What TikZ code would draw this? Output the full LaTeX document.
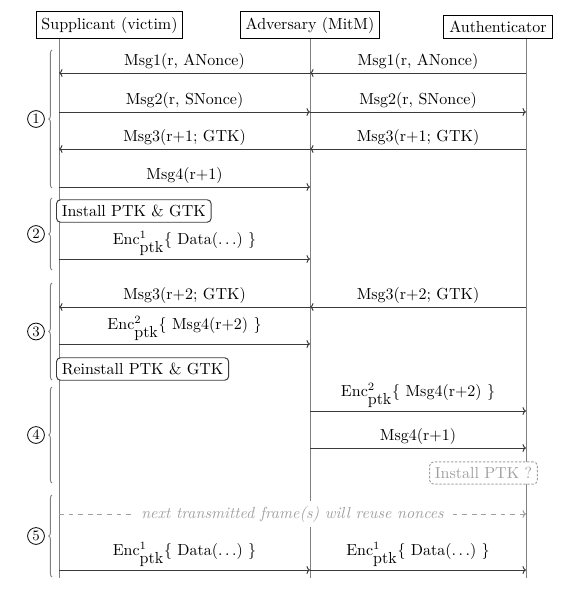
\documentclass[tikz,border=0pt]{standalone}
\usepackage{tikz}
\usetikzlibrary{arrows.meta, positioning, calc, decorations.pathreplacing}
\definecolor{lifegray}{HTML}{808080}
\definecolor{msgdark}{HTML}{3A3A3A}
\definecolor{hintgray}{HTML}{A0A0A0}
\tikzset{
    % Party header style
    party/.style={
        rectangle,
        anchor=south,
        draw=black,
        line width=0.6pt
    },
    % Lifeline style
    lifeline/.style={
        draw=lifegray,
        line width=0.6pt
    },
    % Message arrow styles
    msg/.style={
        -{To[length=2.2pt, width=5pt]},
        draw=msgdark,
        line width=0.6pt
    },
    msg label/.style={
        above,
        inner sep=2pt
    },
    % Key installation box style
    keybox/.style={
        rectangle,
        anchor=west,
        rounded corners=2.5pt,
        draw=msgdark,
        fill=white,
        line width=0.6pt
    },
    % Uncertain step box style
    maybebox/.style={
        rectangle,
        rounded corners=2.5pt,
        draw=hintgray,
        dash pattern=on 1.5pt off 1pt,
        fill=white,
        text=hintgray,
        line width=0.6pt
    },
    % Nonce reuse hint
    reuse/.style={
        -{To[length=2.2pt, width=5pt]},
        draw=hintgray,
        dashed,
        line width=0.6pt
    },
    reuse label/.style={
        fill=white,
        text=hintgray,
        font=\itshape
    },
    % Phase markers
    phase brace/.style={
        decorate,
        decoration={brace, amplitude=2pt},
        draw=lifegray,
        line width=0.6pt
    },
    phase num/.style={
        circle,
        draw=black,
        line width=0.5pt,
        inner sep=0pt,
        minimum size=10.5pt,
        font=\small
    }
}
\newcommand{\encptk}[2]{Enc$^{#1}_{\mbox{ptk}}$\{ #2 \}}

\begin{document}
\begin{tikzpicture}[x=0.625pt, y=-0.625pt]
    \useasboundingbox (0,0) rectangle (575,593);

    % Parties
    \node[party] (sup) at (109.5, 39) {Supplicant (victim)};
    \node[party] (adv) at (310, 39) {Adversary (MitM)};
    \node[party] (auth) at (498, 38.5) {Authenticator};

    % Lifelines
    \coordinate (sup-end) at (59, 578);
    \coordinate (adv-end) at (310, 578);
    \coordinate (auth-end) at (526, 578);
    \draw[lifeline] (sup-end |- sup.south) -- (sup-end);
    \draw[lifeline] (adv.south) -- (adv-end);
    \draw[lifeline] (auth-end |- auth.south) -- (auth-end);

    % Message rows
    \foreach \r/\y in {m1/73, m2/112, m3/149, m4/187, e1/259, m5/307, e2/344, e3/411, m6/448, nr/514, e4/570}
        \coordinate (\r) at (0, \y);

    % Phase markers
    \foreach \i/\top/\bot in {1/50/188, 2/198/270, 3/283/380, 4/387/483, 5/495/577} {
        \draw[phase brace] (52, \bot) -- (52, \top);
        \node[phase num] (ph\i) at (36, {(\top+\bot)/2}) {\i};
    }

    % Phase 1: 4-way handshake
    \draw[msg] (adv-end |- m1) -- node[msg label] (l-m1a) {Msg1(r, ANonce)} (sup-end |- m1);
    \draw[msg] (auth-end |- m1) -- node[msg label] (l-m1b) {Msg1(r, ANonce)} (adv-end |- m1);
    \draw[msg] (sup-end |- m2) -- node[msg label] (l-m2a) {Msg2(r, SNonce)} (adv-end |- m2);
    \draw[msg] (adv-end |- m2) -- node[msg label] (l-m2b) {Msg2(r, SNonce)} (auth-end |- m2);
    \draw[msg] (adv-end |- m3) -- node[msg label] (l-m3a) {Msg3(r+1; GTK)} (sup-end |- m3);
    \draw[msg] (auth-end |- m3) -- node[msg label] (l-m3b) {Msg3(r+1; GTK)} (adv-end |- m3);
    \draw[msg] (sup-end |- m4) -- node[msg label] (l-m4a) {Msg4(r+1)} (adv-end |- m4);

    % Phase 2: install and send
    \node[keybox] (install) at (56, 211) {Install PTK \& GTK};
    \draw[msg] (sup-end |- e1) -- node[msg label] (l-e1) {\encptk{1}{Data($\ldots$)}} (adv-end |- e1);

    % Phase 3: retransmitted Msg3
    \draw[msg] (adv-end |- m5) -- node[msg label] (l-m5a) {Msg3(r+2; GTK)} (sup-end |- m5);
    \draw[msg] (auth-end |- m5) -- node[msg label] (l-m5b) {Msg3(r+2; GTK)} (adv-end |- m5);
    \draw[msg] (sup-end |- e2) -- node[msg label] (l-e2) {\encptk{2}{Msg4(r+2)}} (adv-end |- e2);
    \node[keybox] (reinstall) at (56, 369) {Reinstall PTK \& GTK};

    % Phase 4: forward to authenticator
    \draw[msg] (adv-end |- e3) -- node[msg label] (l-e3) {\encptk{2}{Msg4(r+2)}} (auth-end |- e3);
    \draw[msg] (adv-end |- m6) -- node[msg label] (l-m6) {Msg4(r+1)} (auth-end |- m6);
    \node[maybebox] (maybe) at (483.5, 473) {Install PTK ?};

    % Phase 5: nonce reuse
    \draw[reuse] (sup-end |- nr) -- node[reuse label] (l-nr) {next transmitted frame(s) will reuse nonces} (auth-end |- nr);
    \draw[msg] (sup-end |- e4) -- node[msg label] (l-e4a) {\encptk{1}{Data($\ldots$)}} (adv-end |- e4);
    \draw[msg] (adv-end |- e4) -- node[msg label] (l-e4b) {\encptk{1}{Data($\ldots$)}} (auth-end |- e4);

\end{tikzpicture}
\end{document}
